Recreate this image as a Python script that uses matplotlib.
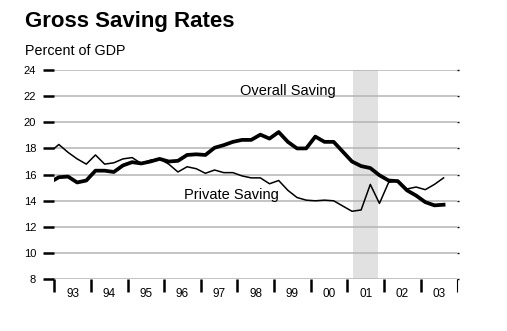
import numpy as np
import matplotlib
matplotlib.use('Agg')
import matplotlib.pyplot as plt

plt.rcParams['font.family'] = ['Liberation Sans', 'DejaVu Sans']

# quarterly data, 1992Q4 .. 2003Q3, plotted at mid-quarter
quarters = np.arange(1992.875, 2003.7, 0.25)
overall = [15.4, 15.8, 15.85, 15.4, 15.55, 16.3, 16.3, 16.2, 16.7, 16.95, 16.85,
           17.0, 17.2, 17.0, 17.05, 17.5, 17.55, 17.5, 18.05, 18.25, 18.5, 18.65,
           18.65, 19.05, 18.75, 19.25, 18.5, 18.0, 18.0, 18.9, 18.5, 18.5, 17.75,
           17.0, 16.65, 16.5, 15.95, 15.55, 15.5, 14.8, 14.4, 13.9, 13.65, 13.7]
private = [17.7, 18.3, 17.7, 17.2, 16.8, 17.5, 16.8, 16.9, 17.2, 17.3, 16.85,
           17.1, 17.2, 16.8, 16.2, 16.6, 16.45, 16.1, 16.35, 16.15, 16.15, 15.9,
           15.75, 15.75, 15.3, 15.55, 14.8, 14.25, 14.05, 14.0, 14.05, 14.0, 13.6,
           13.2, 13.3, 15.25, 13.8, 15.4, 15.55, 14.9, 15.05, 14.85, 15.25, 15.75]

years = list(range(1993, 2005))
year_labels = ['93', '94', '95', '96', '97', '98', '99', '00', '01', '02', '03']
recession = (2001.15, 2001.83)

fig = plt.figure(figsize=(5.07, 3.31), dpi=100)
ax = fig.add_axes([0.107, 0.156, 0.795, 0.633])

# recession shading
ax.axvspan(recession[0], recession[1], color='#e1e1e1', lw=0, zorder=0)

# grid
for v in range(8, 25, 2):
    ax.axhline(v, color='#b4b4b4', lw=1.1, zorder=1)

ax.plot(quarters, overall, color='black', lw=2.7, zorder=3)
ax.plot(quarters, private, color='black', lw=1.1, zorder=3)

ax.text(1998.07, 22.08, 'Overall Saving', fontsize=10.5, va='baseline', ha='left')
ax.text(1996.54, 14.15, 'Private Saving', fontsize=10.5, va='baseline', ha='left')

ax.set_xlim(1993, 2004)
ax.set_ylim(8, 24)

for s in ax.spines.values():
    s.set_visible(False)

# y axis ticks
ax.set_yticks(range(8, 25, 2))
ax.tick_params(axis='y', direction='out', length=8, width=1.8, color='black',
               labelsize=8, pad=5, right=True)
for t in ax.yaxis.get_major_ticks():
    t.tick2line.set_markersize(1.5)
    t.tick2line.set_markeredgewidth(1)

# x axis: year boundaries as ticks, labels centred in each year
ax.set_xticks(years)
ax.set_xticklabels([])
ax.set_xticks([y + 0.5 for y in years[:-1]], minor=True)
ax.set_xticklabels(year_labels, minor=True)
ax.tick_params(axis='x', which='major', direction='out', length=9.5, width=1.8,
               color='black')
ax.tick_params(axis='x', which='minor', length=0, labelsize=8.5, pad=6)
ax.xaxis.get_major_ticks()[-1].tick1line.set_markeredgewidth(0.8)

fig.text(0.049, 0.918, 'Gross Saving Rates', fontsize=16, fontweight='bold',
         va='baseline')
fig.text(0.049, 0.834, 'Percent of GDP', fontsize=10.3, va='baseline')

fig.savefig('out.png', dpi=100)
